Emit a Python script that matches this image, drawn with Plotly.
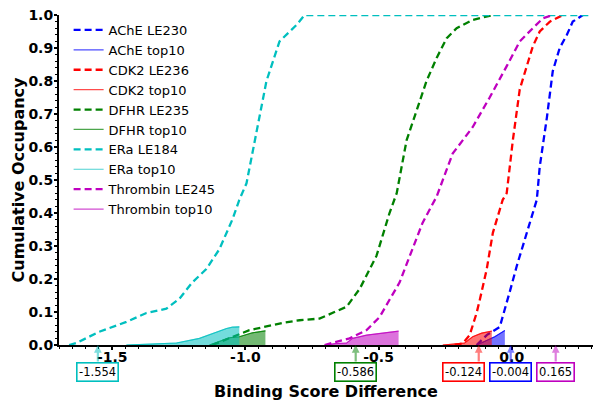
import plotly.graph_objects as go

# ---------------- data ----------------
ache_le_x = [-0.132, -0.094, -0.045, -0.034, -0.008, 0.019, 0.056, 0.094, 0.105, 0.132, 0.154, 0.180, 0.207, 0.229, 0.267]
ache_le_y = [0.0, 0.03, 0.055, 0.085, 0.16, 0.24, 0.34, 0.44, 0.54, 0.69, 0.83, 0.90, 0.94, 0.98, 1.0]
ache_top_x = [-0.132, -0.094, -0.064, -0.026]
ache_top_y = [0.0, 0.015, 0.025, 0.044]

cdk2_le_x = [-0.214, -0.184, -0.158, -0.132, -0.120, -0.094, -0.071, -0.034, -0.019, 0.004, 0.030, 0.056, 0.079, 0.105, 0.143, 0.192]
cdk2_le_y = [0.0, 0.005, 0.03, 0.097, 0.137, 0.23, 0.34, 0.44, 0.46, 0.62, 0.775, 0.845, 0.905, 0.95, 0.98, 1.0]
cdk2_top_x = [-0.259, -0.207, -0.177, -0.147, -0.113, -0.075]
cdk2_top_y = [0.0, 0.005, 0.006, 0.025, 0.036, 0.042]

dfhr_le_x = [-1.124, -1.034, -0.985, -0.861, -0.797, -0.722, -0.673, -0.620, -0.571, -0.508, -0.459, -0.432, -0.395, -0.357, -0.320, -0.282, -0.244, -0.207, -0.147, -0.071]
dfhr_le_y = [0.0, 0.03, 0.045, 0.067, 0.075, 0.08, 0.097, 0.116, 0.17, 0.27, 0.40, 0.46, 0.62, 0.71, 0.80, 0.87, 0.93, 0.96, 0.985, 1.0]
dfhr_top_x = [-1.135, -1.098, -1.060, -1.023, -0.974, -0.925]
dfhr_top_y = [0.0, 0.012, 0.022, 0.025, 0.037, 0.043]

era_le_x = [-1.662, -1.635, -1.549, -1.447, -1.372, -1.297, -1.248, -1.199, -1.147, -1.098, -1.049, -1.023, -0.996, -0.959, -0.921, -0.872, -0.808, -0.778, 0.30]
era_le_y = [0.0, 0.006, 0.04, 0.07, 0.097, 0.11, 0.14, 0.19, 0.23, 0.29, 0.38, 0.44, 0.49, 0.64, 0.80, 0.92, 0.97, 1.0, 1.0]
era_top_x = [-1.447, -1.361, -1.259, -1.173, -1.124, -1.071, -1.049, -1.023]
era_top_y = [0.0, 0.003, 0.006, 0.02, 0.035, 0.05, 0.054, 0.055]

thr_le_x = [-0.703, -0.609, -0.545, -0.496, -0.459, -0.421, -0.383, -0.335, -0.282, -0.222, -0.147, -0.083, -0.019, 0.030, 0.079, 0.117, 0.154]
thr_le_y = [0.0, 0.02, 0.045, 0.085, 0.137, 0.19, 0.27, 0.37, 0.45, 0.58, 0.66, 0.75, 0.845, 0.92, 0.96, 0.99, 1.0]
thr_top_x = [-0.695, -0.665, -0.620, -0.598, -0.545, -0.485, -0.425]
thr_top_y = [0.0, 0.004, 0.006, 0.02, 0.03, 0.036, 0.042]

marker_values = [-0.004, -0.124, -0.586, -1.554, 0.165]
marker_labels = ["-0.004", "-0.124", "-0.586", "-1.554", "0.165"]

x_tick_vals = [-1.5, -1.0, -0.5, 0.0]
x_tick_text = ["-1.5", "-1.0", "-0.5", "0.0"]
y_tick_vals = [0.0, 0.1, 0.2, 0.3, 0.4, 0.5, 0.6, 0.7, 0.8, 0.9, 1.0]
y_tick_text = ["0.0", "0.1", "0.2", "0.3", "0.4", "0.5", "0.6", "0.7", "0.8", "0.9", "1.0"]

series = [
    ("AChE", "LE230", ache_le_x, ache_le_y, ache_top_x, ache_top_y, (0, 0, 255)),
    ("CDK2", "LE236", cdk2_le_x, cdk2_le_y, cdk2_top_x, cdk2_top_y, (255, 0, 0)),
    ("DFHR", "LE235", dfhr_le_x, dfhr_le_y, dfhr_top_x, dfhr_top_y, (0, 128, 0)),
    ("ERa", "LE184", era_le_x, era_le_y, era_top_x, era_top_y, (0, 191, 191)),
    ("Thrombin", "LE245", thr_le_x, thr_le_y, thr_top_x, thr_top_y, (191, 0, 191)),
]
marker_colors = [(0, 0, 255), (255, 0, 0), (0, 128, 0), (0, 191, 191), (191, 0, 191)]
marker_xshift = [0, -15, 0, 0, 0]

def rgba(c, a):
    return "rgba(%d,%d,%d,%s)" % (c[0], c[1], c[2], a)

FONT = "DejaVu Sans"
fig = go.Figure()

for name, le, lx, ly, tx, ty, col in series:
    fig.add_trace(go.Scatter(x=lx, y=ly, mode="lines", name=f"{name} {le}",
                             line=dict(color=rgba(col, 1), width=2.3, dash="7px,4px")))
    fig.add_trace(go.Scatter(x=tx, y=ty, mode="lines", fill="tozeroy",
                             fillcolor=rgba(col, 0.55), line=dict(color=rgba(col, 0.8), width=0.8),
                             showlegend=False, hoverinfo="skip"))
    fig.add_trace(go.Scatter(x=tx, y=ty, mode="lines", name=f"{name} top10",
                             line=dict(color=rgba(col, 0.7), width=1.2)))

for v, lab, col, xs in zip(marker_values, marker_labels, marker_colors, marker_xshift):
    fig.add_annotation(x=v, y=0, xref="x", yref="y", text="", showarrow=True,
                       ax=0, ay=18, arrowcolor=rgba(col, 0.5), arrowwidth=2.2,
                       arrowhead=2, arrowsize=0.7)
    fig.add_annotation(x=v, y=0, xref="x", yref="y", text=lab, showarrow=False,
                       yanchor="top", yshift=-17, xshift=xs,
                       font=dict(family=FONT, size=11.5, color="black"),
                       bordercolor=rgba(col, 1), borderwidth=1.6, borderpad=1.5,
                       bgcolor="white")

fig.update_layout(
    width=600, height=406,
    margin=dict(l=59, r=7, t=15, b=61),
    plot_bgcolor="white", paper_bgcolor="white",
    font=dict(family=FONT, color="black"),
    showlegend=True,
    legend=dict(x=0.018, y=1.0, xanchor="left", yanchor="top",
                font=dict(family=FONT, size=13, color="black"),
                bgcolor="rgba(0,0,0,0)", borderwidth=0),
    xaxis=dict(range=[-1.70, 0.305], tickvals=x_tick_vals, ticktext=x_tick_text,
               automargin=False,
               showgrid=False, zeroline=False, showline=True, linecolor="black", linewidth=2,
               ticks="outside", ticklen=3, tickwidth=1.5, tickcolor="black",
               ticklabelstandoff=-5,
               tickfont=dict(family=FONT, size=14, weight="bold"),
               minor=dict(dtick=0.05, ticks="outside", ticklen=2, tickcolor="black", tickwidth=1),
               title=dict(text="Binding Score Difference", standoff=22,
                          font=dict(family=FONT, size=16, weight="bold"))),
    yaxis=dict(range=[0, 1.0], tickvals=y_tick_vals, ticktext=y_tick_text,
               automargin=False,
               showgrid=False, zeroline=False, showline=True, linecolor="black", linewidth=2,
               ticks="outside", ticklen=3, tickwidth=1.5, tickcolor="black",
               ticklabelstandoff=-2,
               tickfont=dict(family=FONT, size=14, weight="bold"),
               minor=dict(dtick=0.02, ticks="outside", ticklen=2, tickcolor="black", tickwidth=1),
               title=dict(text="Cumulative Occupancy", standoff=0,
                          font=dict(family=FONT, size=16, weight="bold"))),
)

fig.write_html("out.html", config={"displayModeBar": False},
               post_script="document.body.style.margin='0';document.body.style.overflow='hidden';")
